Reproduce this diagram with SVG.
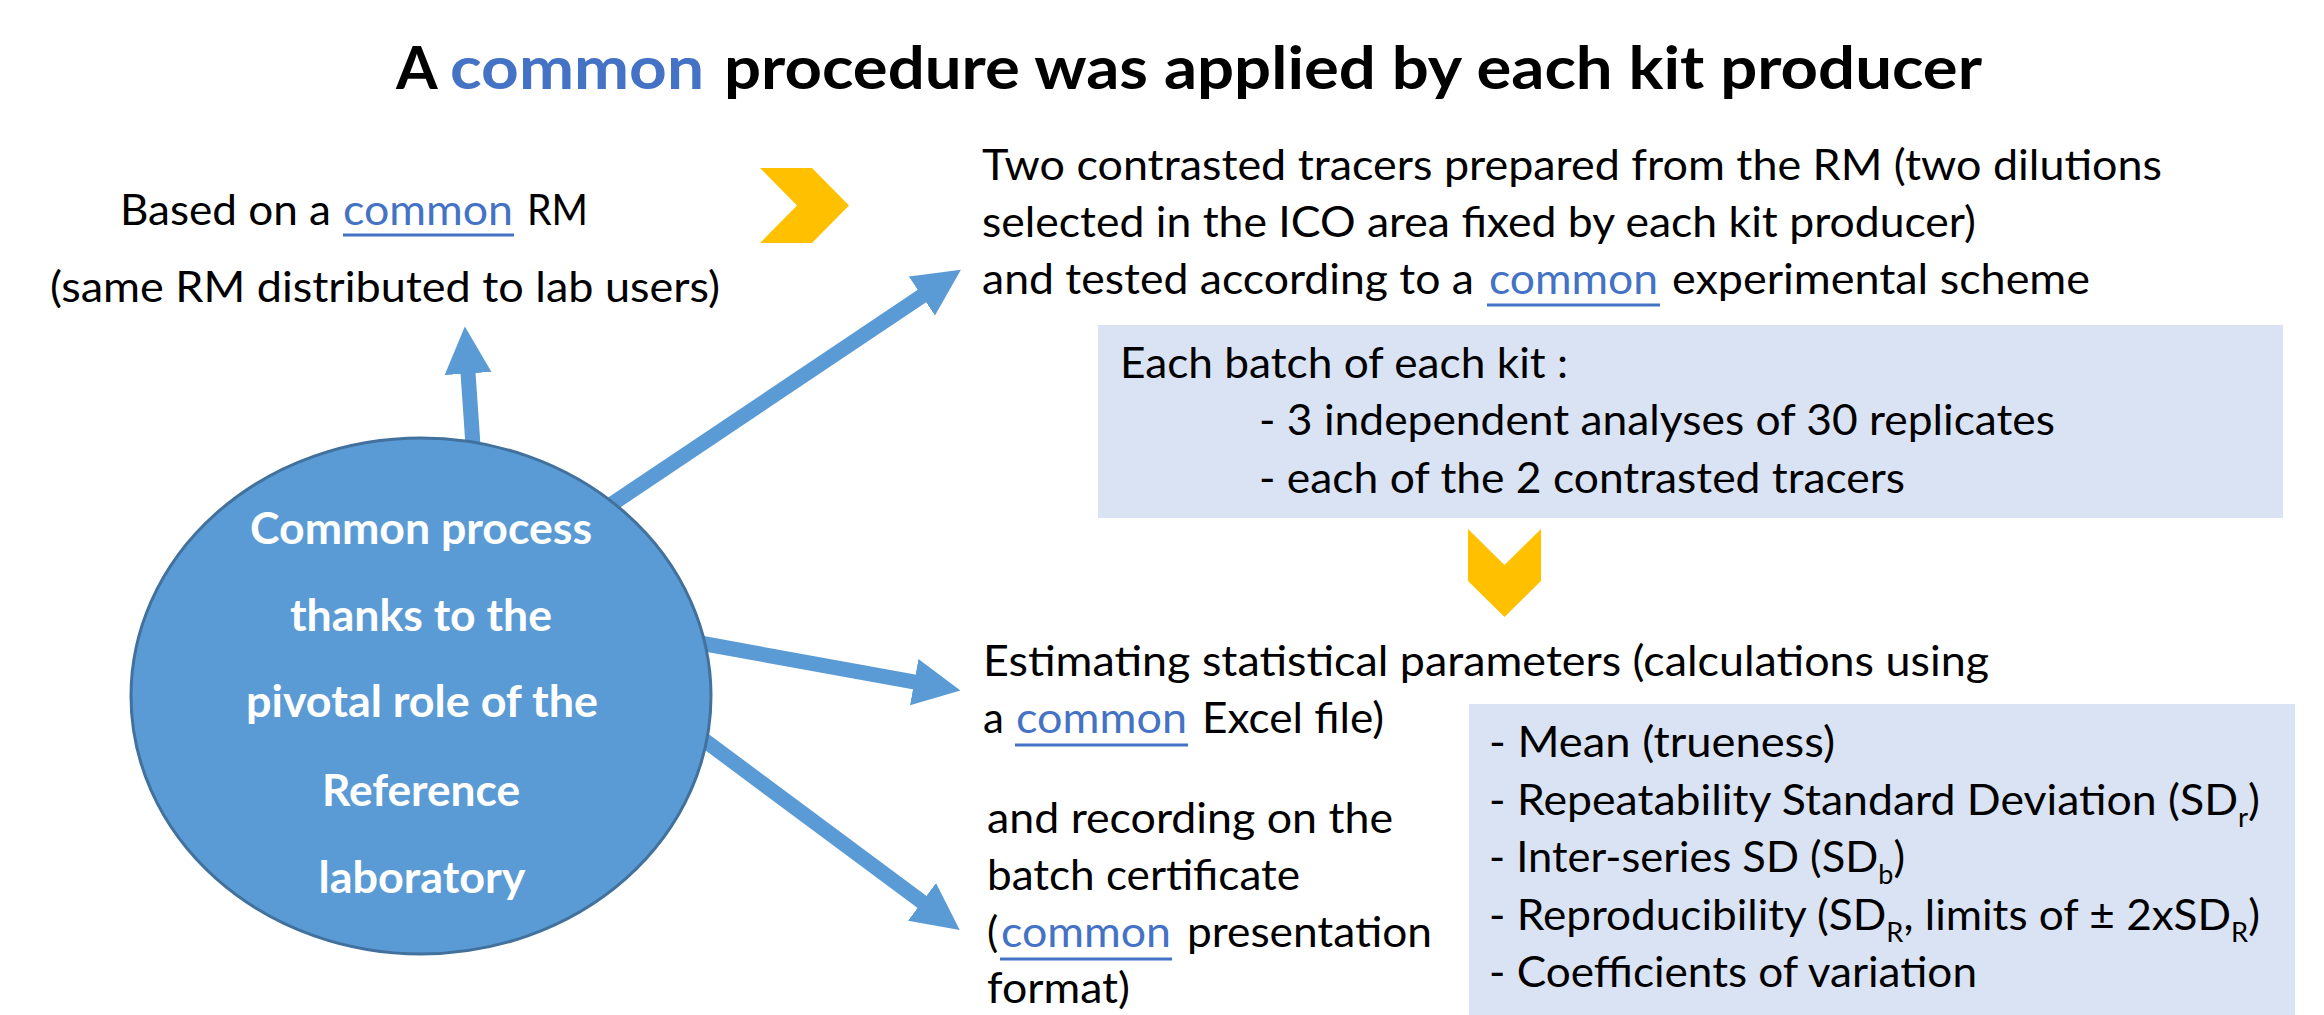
<svg xmlns="http://www.w3.org/2000/svg" width="2324" height="1015" viewBox="0 0 2324 1015">
<style>
  text { font-family: Lato, "Open Sans", "Liberation Sans", sans-serif; fill: #000; }
  .t { font-size: 42px; }
  .title { font-size: 60px; font-weight: bold; }
  .blue { fill: #4472C4; }
  .el { font-size: 44px; font-weight: bold; fill: #fff; text-anchor: middle; }
  .ul { stroke: #4472C4; stroke-width: 3; }
  .box { fill: #DAE3F3; }
  .chev { fill: #FFC000; }
  .arrow { stroke: #5B9BD5; stroke-width: 15; fill: none; marker-end: url(#head); }
  .sub { font-size: 26px; }
</style>
<defs>
  <marker id="head" markerUnits="userSpaceOnUse" viewBox="0 -24 48 48" markerWidth="48" markerHeight="48" refX="1" refY="0" orient="auto">
    <path d="M0,-23.5 L47,0 L0,23.5 Z" fill="#5B9BD5"/>
  </marker>
</defs>
<rect width="2324" height="1015" fill="#fff"/>

<g id="title">
  <text class="title" x="396" y="89">A</text>
  <text class="title blue" x="450" y="89" textLength="254" lengthAdjust="spacingAndGlyphs">common</text>
  <text class="title" x="724" y="89" textLength="1258" lengthAdjust="spacingAndGlyphs">procedure was applied by each kit producer</text>
</g>

<g id="connectors">
  <line class="arrow" x1="474" y1="460" x2="468" y2="372.5"/>
  <line class="arrow" x1="600" y1="512" x2="922.7" y2="295.5"/>
  <line class="arrow" x1="700" y1="643" x2="915.2" y2="682.2"/>
  <line class="arrow" x1="700" y1="737" x2="922.8" y2="902.5"/>
</g>

<g id="center-ellipse">
  <ellipse cx="421" cy="696" rx="290" ry="258" fill="#5B9BD5" stroke="#41719C" stroke-width="3"/>
  <text class="el" x="421" y="544" textLength="342" lengthAdjust="spacingAndGlyphs">Common process</text>
  <text class="el" x="421" y="631" textLength="262" lengthAdjust="spacingAndGlyphs">thanks to the</text>
  <text class="el" x="422" y="717" textLength="352" lengthAdjust="spacingAndGlyphs">pivotal role of the</text>
  <text class="el" x="421" y="806" textLength="198" lengthAdjust="spacingAndGlyphs">Reference</text>
  <text class="el" x="422" y="893" textLength="207" lengthAdjust="spacingAndGlyphs">laboratory</text>
</g>

<g id="rm-node">
  <text class="t" x="120" y="225" textLength="211" lengthAdjust="spacingAndGlyphs">Based on a</text>
  <text class="t blue" x="343" y="225" textLength="170" lengthAdjust="spacingAndGlyphs">common</text>
  <line class="ul" x1="343" y1="235" x2="514" y2="235"/>
  <text class="t" x="527" y="225" textLength="61" lengthAdjust="spacingAndGlyphs">RM</text>
  <text class="t" x="50" y="302" textLength="670" lengthAdjust="spacingAndGlyphs">(same RM distributed to lab users)</text>
</g>

<g id="chevron-right">
  <polygon class="chev" points="760,168 812,168 849,205.5 812,243 760,243 797,205.5"/>
</g>

<g id="tracers-node">
  <text class="t" x="982" y="180" textLength="1180" lengthAdjust="spacingAndGlyphs">Two contrasted tracers prepared from the RM (two dilutions</text>
  <text class="t" x="982" y="237" textLength="994" lengthAdjust="spacingAndGlyphs">selected in the ICO area fixed by each kit producer)</text>
  <text class="t" x="982" y="294" textLength="492" lengthAdjust="spacingAndGlyphs">and tested according to a</text>
  <text class="t blue" x="1489" y="294" textLength="169" lengthAdjust="spacingAndGlyphs">common</text>
  <line class="ul" x1="1487" y1="305" x2="1660" y2="305"/>
  <text class="t" x="1672" y="294" textLength="418" lengthAdjust="spacingAndGlyphs">experimental scheme</text>
</g>

<g id="batch-box">
  <rect class="box" x="1098" y="325" width="1185" height="193"/>
  <text class="t" x="1120" y="378" textLength="448" lengthAdjust="spacingAndGlyphs">Each batch of each kit :</text>
  <text class="t" x="1259" y="435" textLength="796" lengthAdjust="spacingAndGlyphs">- 3 independent analyses of 30 replicates</text>
  <text class="t" x="1259" y="493" textLength="646" lengthAdjust="spacingAndGlyphs">- each of the 2 contrasted tracers</text>
</g>

<g id="chevron-down">
  <polygon class="chev" points="1468,529 1504.5,565 1541,529 1541,581 1504.5,617 1468,581"/>
</g>

<g id="estimating-node">
  <text class="t" x="983" y="676" textLength="1006" lengthAdjust="spacingAndGlyphs">Estimating statistical parameters (calculations using</text>
  <text class="t" x="983" y="733">a</text>
  <text class="t blue" x="1016" y="733" textLength="171" lengthAdjust="spacingAndGlyphs">common</text>
  <line class="ul" x1="1015" y1="745" x2="1188" y2="745"/>
  <text class="t" x="1202" y="733" textLength="182" lengthAdjust="spacingAndGlyphs">Excel file)</text>
</g>

<g id="recording-node">
  <text class="t" x="987" y="833" textLength="406" lengthAdjust="spacingAndGlyphs">and recording on the</text>
  <text class="t" x="987" y="890" textLength="313" lengthAdjust="spacingAndGlyphs">batch certificate</text>
  <text class="t" x="987" y="947">(</text>
  <text class="t blue" x="1001" y="947" textLength="170" lengthAdjust="spacingAndGlyphs">common</text>
  <line class="ul" x1="1000" y1="959" x2="1172" y2="959"/>
  <text class="t" x="1187" y="947" textLength="245" lengthAdjust="spacingAndGlyphs">presentation</text>
  <text class="t" x="987" y="1003" textLength="143" lengthAdjust="spacingAndGlyphs">format)</text>
</g>

<g id="stats-box">
  <rect class="box" x="1469" y="704" width="826" height="311"/>
  <text class="t" x="1489" y="757" textLength="346" lengthAdjust="spacingAndGlyphs">- Mean (trueness)</text>
  <text class="t" x="1489" y="815" textLength="771" lengthAdjust="spacingAndGlyphs">- Repeatability Standard Deviation (SD<tspan class="sub" dy="12">r</tspan><tspan dy="-12">)</tspan></text>
  <text class="t" x="1489" y="872" textLength="416" lengthAdjust="spacingAndGlyphs">- Inter-series SD (SD<tspan class="sub" dy="12">b</tspan><tspan dy="-12">)</tspan></text>
  <text class="t" x="1489" y="930" textLength="771" lengthAdjust="spacingAndGlyphs">- Reproducibility (SD<tspan class="sub" dy="12">R</tspan><tspan dy="-12">, limits of ± 2xSD</tspan><tspan class="sub" dy="12">R</tspan><tspan dy="-12">)</tspan></text>
  <text class="t" x="1489" y="987" textLength="488" lengthAdjust="spacingAndGlyphs">- Coefficients of variation</text>
</g>
</svg>
